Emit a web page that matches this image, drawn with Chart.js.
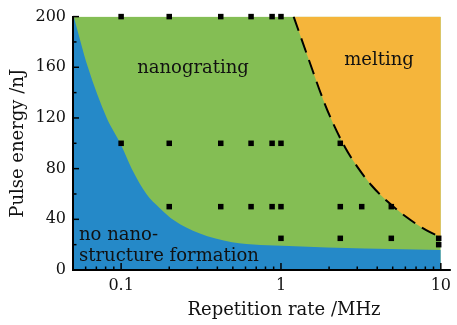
<!DOCTYPE html>
<html><head><meta charset="utf-8">
<script src="https://cdn.jsdelivr.net/npm/chart.js@4"></script>
<style>html,body{margin:0;padding:0;background:#fff;}canvas{display:block;}</style>
</head><body>
<canvas id="c" width="457" height="325"></canvas>
<script>
// ---- data ----
const pointRates    = [0.1,0.2,0.42,0.65,0.88,1,  0.1,0.2,0.42,0.65,0.88,1,2.35,  0.2,0.42,0.65,0.88,1,2.35,3.2,4.9,  1,2.35,4.9,9.7,  9.7];
const pointEnergies = [200,200,200,200,200,200,   100,100,100,100,100,100,100,    50,50,50,50,50,50,50,50,              25,25,25,25,     20];

// boundary of "no nano-structure formation" region
const noStructRates    = [0.0505,0.062,0.0813,0.0989,0.1165,0.144,0.174,0.215,0.308,0.494,1.12,10];
const noStructEnergies = [200,160,120,100,80,60,49,39,29,22,19,15.7];

// boundary of "melting" region (dashed)
const meltRates    = [1.20,1.49,1.85,2.13,2.52,3.02,3.69,4.68,6.09,8.10,10];
const meltEnergies = [200,166.3,133.3,115.1,96.7,81.0,66.7,53.6,41.8,31.4,25.9];

// full nanograting domain
const domainRates    = [0.05,10];
const domainEnergies = [200,200];

const xMajorTicks  = [0.1,1,10];
const xMajorLabels = ['0.1','1','10'];
const xMinorTicks  = [0.06,0.07,0.08,0.09,0.2,0.3,0.4,0.5,0.6,0.7,0.8,0.9,2,3,4,5,6,7,8,9];
const yMajorTicks  = [0,40,80,120,160,200];
const yMinorTicks  = [20,60,100,140,180];

const xTitle = 'Repetition rate /MHz';
const yTitle = 'Pulse energy /nJ';
const regionNames = ['nanograting','melting','no nano-','structure formation'];

// ---- colours / fonts ----
const BLUE = 'rgb(37,137,200)';
const GREEN = 'rgb(132,190,84)';
const ORANGE = 'rgb(245,181,59)';
const FONT = '"DejaVu Serif", "Liberation Serif", serif';

const pts = (xs, ys) => xs.map((v,i) => ({x:v, y:ys[i]}));

const decor = {
  id: 'decor',
  afterDatasetsDraw(chart) {
    const ctx = chart.ctx;
    ctx.save();
    ctx.fillStyle = '#111';
    ctx.font = '18px ' + FONT;
    ctx.textBaseline = 'alphabetic';
    ctx.textAlign = 'center';
    ctx.fillText(regionNames[0], 193, 72.5);
    ctx.fillText(regionNames[1], 379, 64.5);
    ctx.textAlign = 'left';
    ctx.fillText(regionNames[2], 79, 239.5);
    ctx.fillText(regionNames[3], 79, 261);
    ctx.restore();
  },
  afterDraw(chart) {
    const {ctx, chartArea: a, scales: {x, y}} = chart;
    ctx.save();
    ctx.strokeStyle = '#000';
    const seg = (x1,y1,x2,y2,w) => { ctx.lineWidth = w; ctx.beginPath(); ctx.moveTo(x1,y1); ctx.lineTo(x2,y2); ctx.stroke(); };
    yMajorTicks.forEach(v => { const p = y.getPixelForValue(v); seg(a.left, p, a.left+6, p, 1.5); });
    yMinorTicks.forEach(v => { const p = y.getPixelForValue(v); seg(a.left, p, a.left+3.5, p, 1.5); });
    xMajorTicks.forEach(v => { const p = x.getPixelForValue(v); seg(p, a.bottom, p, a.bottom-7, 1.5); });
    xMinorTicks.forEach(v => { const p = x.getPixelForValue(v); seg(p, a.bottom, p, a.bottom-3.5, 1.5); });
    seg(a.right, a.bottom, a.right+10, a.bottom, 2);
    ctx.fillStyle = '#111';
    ctx.font = '18px ' + FONT;
    ctx.textAlign = 'center';
    ctx.textBaseline = 'middle';
    ctx.fillText(xTitle, 284, 310);
    ctx.restore();
  }
};

new Chart(document.getElementById('c'), {
  type: 'line',
  data: {
    datasets: [
      { type: 'scatter', data: pts(pointRates, pointEnergies), order: 0, clip: false,
        showLine: false, pointStyle: 'rect', pointRadius: 3.9, pointBorderWidth: 0,
        pointBackgroundColor: '#000', backgroundColor: '#000' },
      { data: pts(meltRates, meltEnergies), order: 1, fill: 'end', backgroundColor: ORANGE,
        borderColor: '#000', borderWidth: 2, borderDash: [15, 8], pointRadius: 0,
        cubicInterpolationMode: 'monotone' },
      { data: pts(noStructRates, noStructEnergies), order: 2, fill: 'start', backgroundColor: BLUE,
        borderWidth: 0, borderColor: 'rgba(0,0,0,0)', pointRadius: 0, cubicInterpolationMode: 'monotone' },
      { data: pts(domainRates, domainEnergies), order: 3, fill: 'start', backgroundColor: GREEN,
        borderWidth: 0, borderColor: 'rgba(0,0,0,0)', pointRadius: 0 }
    ]
  },
  options: {
    responsive: false,
    animation: false,
    events: [],
    devicePixelRatio: 1,
    layout: { padding: { top: 15, right: 14, left: 0, bottom: 0 } },
    plugins: { legend: { display: false }, tooltip: { enabled: false } },
    scales: {
      x: {
        type: 'logarithmic', min: 0.05, max: 10,
        afterBuildTicks: s => { s.ticks = xMajorTicks.map(v => ({value: v})); },
        afterFit: s => { s.height = 55; },
        ticks: { padding: 6, color: '#111', font: { family: FONT, size: 16 },
                 callback: v => { const i = xMajorTicks.indexOf(v); return i >= 0 ? xMajorLabels[i] : ''; } },
        grid: { display: false, drawTicks: false },
        border: { display: true, color: '#000', width: 2, z: 1 }
      },
      y: {
        min: 0, max: 200,
        afterBuildTicks: s => { s.ticks = yMajorTicks.map(v => ({value: v})); },
        afterFit: s => { s.width = 73; },
        ticks: { padding: 7, color: '#111', font: { family: FONT, size: 16 } },
        grid: { display: false, drawTicks: false },
        border: { display: true, color: '#000', width: 2, z: 1 },
        title: { display: true, text: yTitle, color: '#111', padding: { top: 8, bottom: 0 },
                 font: { family: FONT, size: 18 } }
      }
    }
  },
  plugins: [decor]
});
</script>
</body></html>
